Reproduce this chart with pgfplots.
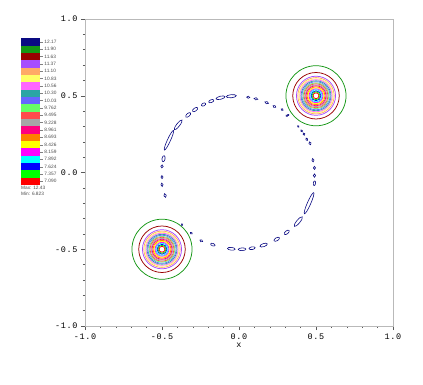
\documentclass[border=0pt]{standalone}
\usepackage{pgfplots}
\pgfplotsset{compat=1.18}
\usepackage{fontspec}
\setmainfont{Liberation Sans}
\newfontfamily\tickfont[LetterSpace=8]{Liberation Mono}

\definecolor{c1}{RGB}{10,10,130}
\definecolor{c2}{RGB}{20,150,20}
\definecolor{c3}{RGB}{153,0,0}
\definecolor{c4}{RGB}{166,77,255}
\definecolor{c5}{RGB}{255,170,102}
\definecolor{c6}{RGB}{255,255,102}
\definecolor{c7}{RGB}{255,102,255}
\definecolor{c8}{RGB}{42,165,165}
\definecolor{c9}{RGB}{102,102,255}
\definecolor{c10}{RGB}{102,255,102}
\definecolor{c11}{RGB}{255,76,76}
\definecolor{c12}{RGB}{166,166,166}
\definecolor{c13}{RGB}{255,0,128}
\definecolor{c14}{RGB}{255,128,0}
\definecolor{c15}{RGB}{255,255,0}
\definecolor{c16}{RGB}{255,0,255}
\definecolor{c17}{RGB}{0,255,255}
\definecolor{c18}{RGB}{0,0,255}
\definecolor{c19}{RGB}{0,255,0}
\definecolor{c20}{RGB}{255,0,0}

\def\RingR{1pt}\def\LoopA{1pt}\def\LoopB{1pt}
\pgfdeclareplotmark{ring}{\pgfpathcircle{\pgfpointorigin}{\RingR}\pgfusepathqstroke}
\pgfdeclareplotmark{loop}{\pgfpathellipse{\pgfpointorigin}{\pgfpoint{\LoopA}{0pt}}{\pgfpoint{0pt}{\LoopB}}\pgfusepathqstroke}

\pgfplotstableread{
x y r ci
0.5 0.5 0.195 2
0.5 0.5 0.151 3
0.5 0.5 0.127 4
0.5 0.5 0.118 5
0.5 0.5 0.110 6
0.5 0.5 0.104 7
0.5 0.5 0.097 8
0.5 0.5 0.091 9
0.5 0.5 0.084 10
0.5 0.5 0.078 11
0.5 0.5 0.071 12
0.5 0.5 0.065 13
0.5 0.5 0.058 14
0.5 0.5 0.052 15
0.5 0.5 0.045 16
0.5 0.5 0.039 17
0.5 0.5 0.032 18
0.5 0.5 0.026 19
0.5 0.5 0.019 20
-0.5 -0.5 0.195 2
-0.5 -0.5 0.151 3
-0.5 -0.5 0.127 4
-0.5 -0.5 0.118 5
-0.5 -0.5 0.110 6
-0.5 -0.5 0.104 7
-0.5 -0.5 0.097 8
-0.5 -0.5 0.091 9
-0.5 -0.5 0.084 10
-0.5 -0.5 0.078 11
-0.5 -0.5 0.071 12
-0.5 -0.5 0.065 13
-0.5 -0.5 0.058 14
-0.5 -0.5 0.052 15
-0.5 -0.5 0.045 16
-0.5 -0.5 0.039 17
-0.5 -0.5 0.032 18
-0.5 -0.5 0.026 19
-0.5 -0.5 0.019 20
}\rings

\pgfplotstableread{
x y L W
-0.120 0.487 0.060 0.020
-0.050 0.497 0.065 0.020
-0.180 0.465 0.035 0.018
-0.230 0.443 0.030 0.018
-0.285 0.410 0.040 0.020
-0.330 0.375 0.040 0.020
-0.395 0.310 0.080 0.020
-0.455 0.210 0.140 0.020
-0.490 0.090 0.040 0.020
-0.500 0.040 0.020 0.015
-0.500 -0.030 0.020 0.014
-0.500 -0.080 0.022 0.014
-0.480 -0.150 0.025 0.016
-0.370 -0.340 0.012 0.012
-0.310 -0.395 0.015 0.012
-0.245 -0.445 0.020 0.014
-0.170 -0.470 0.030 0.016
-0.050 -0.497 0.050 0.018
0.020 -0.500 0.050 0.018
0.085 -0.493 0.040 0.018
0.160 -0.473 0.050 0.020
0.245 -0.435 0.040 0.020
0.310 -0.390 0.040 0.020
0.385 -0.320 0.080 0.022
0.455 -0.200 0.150 0.022
0.490 -0.070 0.030 0.015
0.490 -0.020 0.022 0.015
0.490 0.030 0.020 0.014
0.480 0.080 0.022 0.014
0.461 0.190 0.020 0.014
0.440 0.216 0.018 0.013
0.422 0.250 0.016 0.012
0.407 0.271 0.015 0.011
0.385 0.300 0.012 0.010
0.310 0.370 0.012 0.010
0.320 0.375 0.010 0.010
0.280 0.410 0.015 0.012
0.230 0.430 0.020 0.014
0.180 0.455 0.025 0.015
0.110 0.480 0.025 0.015
0.060 0.490 0.020 0.014
}\loops

\begin{document}
\begin{tikzpicture}
\begin{axis}[
  x=154bp, y=153.5bp,
  xmin=-1, xmax=1, ymin=-1, ymax=1,
  axis line style={draw=gray!55, line width=0.8bp},
  xtick={-1,-0.5,0,0.5,1}, xticklabels={-1.0,-0.5,0.0,0.5,1.0},
  ytick={-1,-0.5,0,0.5,1}, yticklabels={-1.0,-0.5,0.0,0.5,1.0},
  minor tick num=4,
  tick align=outside,
  xtick pos=left, ytick pos=left,
  major tick length=4bp, minor tick length=2bp,
  tick style={draw=gray!70!black, line width=0.4bp},
  ticklabel style={font=\tickfont\fontsize{8.5}{10}\selectfont, text=black},
  xlabel={x},
  xlabel style={font=\tickfont\fontsize{8.5}{10}\selectfont, text=black, yshift=3bp},
  clip=false,
]
\addplot[scatter, only marks, mark=ring,
  visualization depends on={\thisrow{r} \as \rr},
  visualization depends on={\thisrow{ci} \as \cival},
  scatter/@pre marker code/.code={\pgfmathtruncatemacro\cidx{\cival}\scope[draw=c\cidx, line width=0.75bp]\pgfmathsetlengthmacro\RingR{\rr*154bp}},
  scatter/@post marker code/.code={\endscope},
] table[x=x, y=y] {\rings};
\addplot[scatter, only marks, mark=loop,
  visualization depends on={\thisrow{L} \as \ll},
  visualization depends on={\thisrow{W} \as \ww},
  visualization depends on={atan2(\thisrow{y},\thisrow{x})+90 \as \ang},
  scatter/@pre marker code/.code={\scope[draw=c1, line width=0.6bp]\pgftransformrotate{\ang}\pgfmathsetlengthmacro\LoopA{\ll*77bp}\pgfmathsetlengthmacro\LoopB{\ww*77bp}},
  scatter/@post marker code/.code={\endscope},
] table[x=x, y=y] {\loops};
\end{axis}
\foreach \i/\c/\v in {1/c1/12.17, 2/c2/11.90, 3/c3/11.63, 4/c4/11.37, 5/c5/11.10, 6/c6/10.83, 7/c7/10.56, 8/c8/10.30, 9/c9/10.03, 10/c10/9.762, 11/c11/9.495, 12/c12/9.228, 13/c13/8.961, 14/c14/8.693, 15/c15/8.426, 16/c16/8.159, 17/c17/7.892, 18/c18/7.624, 19/c19/7.357, 20/c20/7.090} {
  \fill[\c] (-64bp, {287.7bp-(\i-1)*7.335bp}) rectangle ++(19bp,-7.335bp);
  \draw[gray, line width=0.3bp] (-45bp, {287.7bp-(\i-0.5)*7.335bp}) -- ++(3.5bp,0)
    node[right, inner sep=0.8bp, font=\fontsize{4.8}{5}\selectfont, text=black!70] {\v};
}
\node[right, inner sep=0pt, font=\fontsize{4.8}{5}\selectfont, text=black!70] at (-64bp,137.8bp) {Max: 12.43};
\node[right, inner sep=0pt, font=\fontsize{4.8}{5}\selectfont, text=black!70] at (-64bp,132.6bp) {Min: 6.823};
\path (-85bp,-59bp) rectangle (338bp,326bp);
\end{tikzpicture}
\end{document}
